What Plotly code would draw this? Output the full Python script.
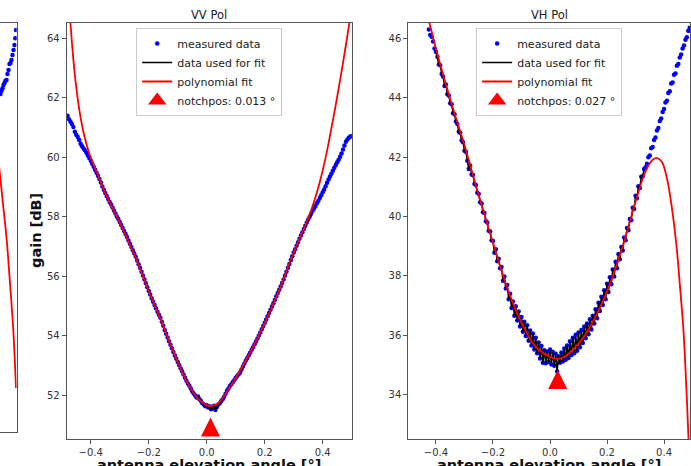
import numpy as np
import plotly.graph_objects as go

# ---------------- data ----------------
STEP = 0.005            # sampling step of the elevation scan [deg]
VV_START = -0.480       # first sample of the VV scan [deg]
VH_START = -0.425       # first visible sample of the VH scan [deg]

vv_gain = [
    61.40, 61.28, 61.20, 61.12, 61.02, 60.86, 60.76, 60.68, 60.58, 60.46,
    60.37, 60.30, 60.24, 60.15, 60.06, 59.98, 59.88, 59.78, 59.68, 59.58,
    59.48, 59.38, 59.27, 59.15, 59.02, 58.91, 58.80, 58.70, 58.60, 58.50,
    58.41, 58.31, 58.21, 58.11, 58.01, 57.92, 57.82, 57.72, 57.62, 57.52,
    57.42, 57.32, 57.20, 57.09, 56.98, 56.87, 56.76, 56.65, 56.53, 56.40,
    56.28, 56.15, 56.02, 55.89, 55.76, 55.63, 55.50, 55.38, 55.26, 55.14,
    55.03, 54.92, 54.80, 54.70, 54.60, 54.47, 54.33, 54.19, 54.06, 53.94,
    53.81, 53.69, 53.57, 53.45, 53.33, 53.22, 53.11, 53.00, 52.90, 52.80,
    52.69, 52.58, 52.48, 52.39, 52.31, 52.22, 52.12, 52.05, 51.98, 51.92,
    51.95, 51.86, 51.80, 51.72, 51.68, 51.62, 51.66, 51.58, 51.62, 51.52,
    51.56, 51.64, 51.50, 51.60, 51.68, 51.72, 51.80, 51.86, 51.94, 52.04,
    52.14, 52.22, 52.30, 52.36, 52.44, 52.50, 52.58, 52.64, 52.70, 52.76,
    52.86, 52.96, 53.06, 53.16, 53.25, 53.34, 53.43, 53.52, 53.61, 53.71,
    53.80, 53.90, 54.00, 54.10, 54.21, 54.32, 54.43, 54.54, 54.65, 54.76,
    54.87, 54.98, 55.09, 55.20, 55.32, 55.43, 55.54, 55.65, 55.77, 55.89,
    56.02, 56.15, 56.28, 56.41, 56.54, 56.67, 56.80, 56.91, 57.02, 57.14,
    57.26, 57.37, 57.48, 57.59, 57.70, 57.81, 57.91, 58.00, 58.10, 58.20,
    58.28, 58.36, 58.45, 58.54, 58.63, 58.72, 58.82, 58.92, 59.03, 59.14,
    59.25, 59.35, 59.45, 59.55, 59.65, 59.74, 59.83, 59.92, 60.02, 60.13,
    60.26, 60.40, 60.52, 60.60, 60.66, 60.70, 60.72,
]

vh_gain = [
    46.30, 46.12, 46.06, 45.90, 45.66, 45.55, 45.38, 45.12, 45.10, 44.80,
    44.72, 44.40, 44.45, 44.12, 44.08, 43.82, 43.78, 43.48, 43.45, 43.20,
    43.12, 42.86, 42.82, 42.56, 42.50, 42.22, 42.18, 41.88, 41.60, 41.72,
    41.42, 41.40, 41.10, 41.06, 40.80, 40.76, 40.48, 40.44, 40.15, 40.12,
    39.84, 39.80, 39.52, 39.50, 39.20, 39.18, 38.78, 38.90, 38.50, 38.58,
    38.26, 38.30, 37.84, 37.98, 37.58, 37.70, 37.22, 37.40, 36.92, 37.14,
    36.66, 36.98, 36.50, 36.80, 36.30, 36.62, 36.12, 36.46, 35.98, 36.34,
    35.82, 36.16, 35.66, 36.06, 35.52, 35.92, 35.40, 35.76, 35.22, 35.64,
    35.08, 35.50, 35.06, 35.46, 35.10, 35.52, 35.02, 35.44, 34.98, 35.38,
    34.78, 35.30, 35.08, 35.42, 35.12, 35.56, 35.18, 35.66, 35.24, 35.80,
    35.34, 35.92, 35.40, 36.02, 35.48, 36.10, 35.60, 36.18, 35.74, 36.30,
    35.90, 36.40, 36.04, 36.54, 36.20, 36.66, 36.40, 36.88, 36.58, 37.10,
    36.82, 37.30, 37.02, 37.52, 37.22, 37.74, 37.46, 37.96, 37.72, 38.22,
    37.98, 38.48, 38.26, 38.74, 38.56, 38.98, 38.86, 39.30, 39.20, 39.62,
    39.54, 39.92, 39.88, 40.30, 40.26, 40.70, 40.62, 41.02, 40.96, 41.34,
    41.36, 41.60, 41.66, 41.78, 42.00, 42.06, 42.30, 42.34, 42.58, 42.66,
    42.90, 42.98, 43.22, 43.30, 43.52, 43.62, 43.84, 43.90, 44.16, 44.22,
    44.48, 44.52, 44.78, 44.82, 45.08, 45.14, 45.36, 45.46, 45.66, 45.76,
    45.96, 46.04, 46.26, 46.36,
]

VV_FIT_RANGE = (-0.38, 0.36)
VH_FIT_RANGE = (-0.40, 0.33)

vv_poly_x = [-0.483, -0.470, -0.460, -0.450, -0.440, -0.430, -0.420, -0.410, -0.400,
             -0.390, -0.378, -0.350, -0.300, -0.250, -0.200, -0.150, -0.100, -0.060,
             -0.030, 0.000, 0.013, 0.040, 0.070, 0.100, 0.150, 0.200, 0.250, 0.300,
             0.330, 0.340, 0.350, 0.360, 0.370, 0.380, 0.390, 0.400, 0.410, 0.420,
             0.430, 0.440, 0.450, 0.460, 0.470, 0.480, 0.490, 0.500]
vv_poly_y = [66.60, 64.51, 63.29, 62.35, 61.63, 61.07, 60.63, 60.28, 59.99,
             59.74, 59.47, 58.80, 57.80, 56.74, 55.50, 54.33, 53.11, 52.30,
             51.88, 51.66, 51.63, 51.72, 52.12, 52.58, 53.43, 54.43, 55.54, 56.80,
             57.48, 57.71, 57.95, 58.21, 58.50, 58.82, 59.17, 59.56, 59.99, 60.46,
             60.98, 61.50, 62.04, 62.60, 63.18, 63.78, 64.40, 65.05]

vh_poly_x = [-0.430, -0.421, -0.400, -0.350, -0.300, -0.250, -0.200, -0.150, -0.100,
             -0.050, 0.000, 0.027, 0.050, 0.100, 0.150, 0.200, 0.250, 0.300, 0.330,
             0.350, 0.362, 0.374, 0.392, 0.409, 0.427, 0.444, 0.456, 0.468, 0.477,
             0.485, 0.491]
vh_poly_y = [46.75, 46.45, 45.65, 43.95, 42.40, 40.72, 39.12, 37.60, 36.42,
             35.62, 35.27, 35.21, 35.28, 35.72, 36.45, 37.48, 38.85, 40.50, 41.40,
             41.80, 41.93, 41.98, 41.85, 41.34, 40.33, 38.98, 37.64, 36.18, 34.49,
             32.70, 31.20]

VV_NOTCH, VV_NOTCH_Y = 0.013, 51.24
VH_NOTCH, VH_NOTCH_Y = 0.027, 34.83

# right edge of the neighbouring (cut-off) panel
left_angle = [0.4418, 0.4454, 0.4490, 0.4526, 0.4562, 0.4598, 0.4634, 0.4669, 0.4705,
              0.4741, 0.4777, 0.4813, 0.4849, 0.4885, 0.4921, 0.4950, 0.4975]
left_gain = [62.16, 62.26, 62.35, 62.45, 62.52, 62.59, 62.62, 62.82, 62.95,
             63.15, 63.18, 63.28, 63.44, 63.61, 63.77, 64.00, 64.27]
left_poly_x = [0.436, 0.440, 0.4519, 0.4641, 0.4759, 0.4878, 0.4975]
left_poly_y = [59.85, 59.48, 58.43, 57.34, 55.92, 54.37, 52.45]

vv_angle = np.round(VV_START + STEP * np.arange(len(vv_gain)), 3)
vh_angle = np.round(VH_START + STEP * np.arange(len(vh_gain)), 3)

# ---------------- figure ----------------
W, H = 691, 466
FONT = "DejaVu Sans"
BLUE, RED, BLACK = "#0000ff", "#ff0000", "#000000"
AX_COL = "#555555"

fig = go.Figure()


def panel(angle, gain, fit_range, px, py, notch, notch_y, xa, ya, leg):
    angle = np.asarray(angle)
    gain = np.asarray(gain)
    m = (angle >= fit_range[0]) & (angle <= fit_range[1])
    fig.add_trace(go.Scatter(x=angle, y=gain, mode="markers", name="measured data",
                             marker=dict(color=BLUE, size=4.5, line=dict(width=0)),
                             xaxis=xa, yaxis=ya, legend=leg))
    fig.add_trace(go.Scatter(x=angle[m], y=gain[m], mode="lines", name="data used for fit",
                             line=dict(color=BLACK, width=1.5),
                             xaxis=xa, yaxis=ya, legend=leg))
    fig.add_trace(go.Scatter(x=px, y=py, mode="lines", name="polynomial fit",
                             line=dict(color=RED, width=1.8, shape="spline", smoothing=1.0),
                             xaxis=xa, yaxis=ya, legend=leg))
    fig.add_trace(go.Scatter(x=[notch], y=[notch_y], mode="markers", showlegend=False,
                             marker=dict(symbol="arrow-up", size=19, color=RED,
                                         line=dict(width=0)),
                             xaxis=xa, yaxis=ya))
    fig.add_trace(go.Scatter(x=[None], y=[None], mode="markers",
                             name=f"notchpos: {notch:.3f} °",
                             marker=dict(symbol="triangle-up", size=16, color=RED,
                                         line=dict(width=0)),
                             xaxis=xa, yaxis=ya, legend=leg))


# cut-off panel on the far left
fig.add_trace(go.Scatter(x=left_angle, y=left_gain, mode="markers", showlegend=False,
                         marker=dict(color=BLUE, size=4.5, line=dict(width=0)),
                         xaxis="x", yaxis="y"))
fig.add_trace(go.Scatter(x=left_poly_x, y=left_poly_y, mode="lines", showlegend=False,
                         line=dict(color=RED, width=1.8, shape="spline"),
                         xaxis="x", yaxis="y"))

panel(vv_angle, vv_gain, VV_FIT_RANGE, vv_poly_x, vv_poly_y, VV_NOTCH, VV_NOTCH_Y,
      "x2", "y2", "legend")
panel(vh_angle, vh_gain, VH_FIT_RANGE, vh_poly_x, vh_poly_y, VH_NOTCH, VH_NOTCH_Y,
      "x3", "y3", "legend2")

base_ax = dict(showline=True, linecolor=AX_COL, linewidth=1, mirror=True,
               ticks="outside", ticklen=4, tickwidth=1, tickcolor=AX_COL,
               showgrid=False, zeroline=False,
               tickfont=dict(family=FONT, size=10, color="#333333"))

VV_DOM = [66.7 / W, 351.7 / W]
VH_DOM = [408.3 / W, 690.0 / W]
PLOT_H = H - 23 - 27

xticks = [-0.4, -0.2, 0.0, 0.2, 0.4]

fig.update_layout(
    width=W, height=H, autosize=False,
    margin=dict(l=0, r=0, t=23, b=27, pad=0),
    paper_bgcolor="white", plot_bgcolor="white",
    font=dict(family=FONT, color="#222222"),
    xaxis=dict(domain=[0, 16.7 / W], range=[0.44, 0.5], anchor="y",
               showline=True, linecolor=AX_COL, linewidth=1, mirror=True,
               ticks="", showticklabels=False, showgrid=False, zeroline=False),
    yaxis=dict(domain=[(439 - 432) / PLOT_H, 1], range=[51.0, 64.5], anchor="x",
               side="right", showline=True, linecolor=AX_COL, linewidth=1, mirror=False,
               ticks="", showticklabels=False, showgrid=False, zeroline=False),
    xaxis2=dict(base_ax, domain=VV_DOM, range=[-0.483, 0.5], anchor="y2",
                tickvals=xticks, tickformat=".1f"),
    yaxis2=dict(base_ax, domain=[0, 1], range=[50.52, 64.52], anchor="x2",
                tick0=0, dtick=2),
    xaxis3=dict(base_ax, domain=VH_DOM, range=[-0.497, 0.491], anchor="y3",
                tickvals=xticks, tickformat=".1f"),
    yaxis3=dict(base_ax, domain=[0, 1], range=[32.51, 46.52], anchor="x3",
                tick0=0, dtick=2),
    showlegend=True,
)

leg_common = dict(y=1 - 5 / PLOT_H, xanchor="center", yanchor="top",
                  bgcolor="rgba(255,255,255,0.85)", bordercolor="#cccccc", borderwidth=1,
                  font=dict(family=FONT, size=11, color="#222222"),
                  itemwidth=30, traceorder="normal", tracegroupgap=0)
vv_c = (VV_DOM[0] + VV_DOM[1]) / 2
vh_c = (VH_DOM[0] + VH_DOM[1]) / 2
fig.update_layout(legend=dict(leg_common, x=vv_c), legend2=dict(leg_common, x=vh_c))

ann = []
for title, c in (("VV Pol", vv_c), ("VH Pol", vh_c)):
    ann.append(dict(text=title, x=c, y=1 + (23 - 14.5) / PLOT_H, xref="paper", yref="paper",
                    showarrow=False, xanchor="center", yanchor="middle",
                    font=dict(family=FONT, size=11.5, color="#222222")))
    ann.append(dict(text="<b>antenna elevation angle [°]</b>", x=c, y=-(465 - 439) / PLOT_H,
                    xref="paper", yref="paper", showarrow=False, xanchor="center",
                    yanchor="middle", font=dict(family=FONT, size=14.5, color="#111111")))
ann.append(dict(text="<b>gain [dB]</b>", x=36 / W, y=0.5, xref="paper", yref="paper",
                showarrow=False, textangle=-90, xanchor="center", yanchor="middle",
                font=dict(family=FONT, size=14.5, color="#111111")))
fig.update_layout(annotations=ann)

fig.write_html("out.html", config={"displayModeBar": False})
